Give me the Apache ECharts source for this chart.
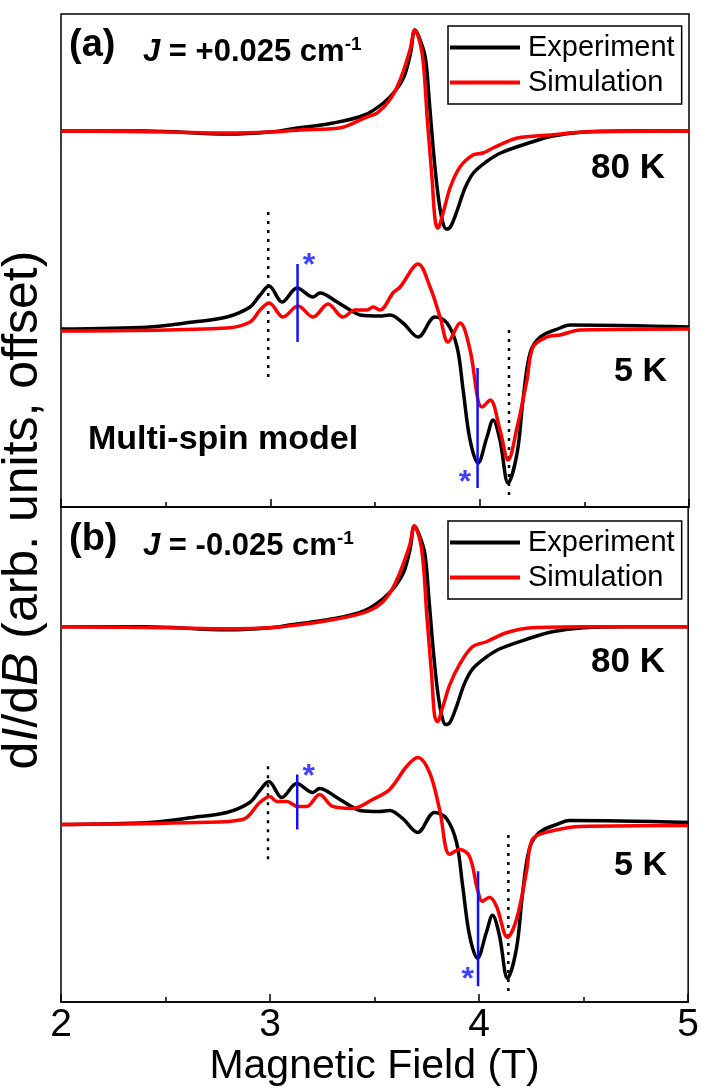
<!DOCTYPE html>
<html>
<head>
<meta charset="utf-8">
<script src="https://cdn.jsdelivr.net/npm/echarts@6/dist/echarts.min.js"></script>
<style>
  html, body { margin: 0; padding: 0; background: #fff; }
  #chart { width: 702px; height: 1088px; }
</style>
</head>
<body>
<div id="chart"></div>
<script>
// field (T) and dI/dB (arb. units, offset)
var exp80B = [2.0, 2.4, 2.8, 3.0, 3.1, 3.3, 3.45, 3.54, 3.6, 3.64, 3.67, 3.69, 3.71, 3.74, 3.76, 3.78, 3.80, 3.82, 3.84, 3.86, 3.89, 3.93, 3.97, 4.03, 4.1, 4.25, 4.35, 4.5, 4.7, 5.0];
var exp80Y = [7.52, 7.52, 7.46, 7.5, 7.56, 7.68, 7.84, 8.08, 8.34, 8.62, 9.08, 9.54, 9.4, 9.0, 8.08, 7.08, 6.28, 5.76, 5.56, 5.6, 5.9, 6.38, 6.68, 6.9, 7.08, 7.3, 7.42, 7.5, 7.52, 7.52];

var sim80aB = [2.0, 2.5, 2.8, 3.0, 3.14, 3.33, 3.46, 3.51, 3.57, 3.62, 3.667, 3.69, 3.725, 3.75, 3.773, 3.787, 3.80, 3.825, 3.86, 3.906, 3.968, 4.016, 4.064, 4.18, 4.34, 4.5, 5.0];
var sim80aY = [7.52, 7.5, 7.48, 7.5, 7.54, 7.58, 7.8, 7.88, 8.14, 8.54, 9.14, 9.54, 9.08, 7.74, 6.54, 5.74, 5.58, 5.88, 6.4, 6.8, 7.04, 7.08, 7.18, 7.38, 7.44, 7.5, 7.52];

var sim80bB = [2.0, 2.5, 2.8, 3.0, 3.14, 3.3, 3.46, 3.54, 3.6, 3.667, 3.69, 3.725, 3.75, 3.773, 3.787, 3.80, 3.825, 3.86, 3.906, 3.968, 4.035, 4.131, 4.255, 4.5, 5.0];
var sim80bY = [7.52, 7.5, 7.48, 7.5, 7.56, 7.66, 7.82, 8.02, 8.4, 9.14, 9.54, 9.08, 7.74, 6.54, 5.74, 5.62, 5.9, 6.36, 6.76, 7.12, 7.22, 7.4, 7.5, 7.52, 7.52];

var exp5B = [2.0, 2.425, 2.631, 2.793, 2.903, 2.951, 2.994, 3.056, 3.128, 3.204, 3.237, 3.319, 3.381, 3.429, 3.524, 3.572, 3.634, 3.706, 3.787, 3.844, 3.892, 3.921, 3.954, 3.992, 4.035, 4.064, 4.097, 4.136, 4.179, 4.207, 4.241, 4.289, 4.384, 4.432, 5.0];
var exp5Y = [3.56, 3.6, 3.7, 3.8, 4.0, 4.24, 4.42, 4.1, 4.38, 4.2, 4.28, 4.1, 3.94, 3.84, 3.82, 3.84, 3.68, 3.4, 3.8, 3.68, 3.2, 2.34, 1.34, 0.88, 1.4, 1.74, 1.34, 0.48, 1.08, 2.14, 3.08, 3.4, 3.58, 3.64, 3.6];

var sim5aB = [2.0, 2.793, 2.903, 2.951, 2.994, 3.061, 3.132, 3.204, 3.276, 3.347, 3.405, 3.462, 3.491, 3.524, 3.586, 3.62, 3.706, 3.763, 3.811, 3.849, 3.906, 3.954, 3.992, 4.011, 4.05, 4.097, 4.136, 4.179, 4.226, 4.255, 4.322, 4.384, 4.48, 5.0];
var sim5aY = [3.52, 3.58, 3.7, 3.94, 4.08, 3.8, 4.02, 3.8, 4.06, 3.8, 3.94, 3.94, 4.0, 3.94, 4.28, 4.4, 4.86, 4.4, 3.8, 3.3, 3.68, 3.14, 2.14, 2.0, 2.14, 1.54, 0.94, 1.6, 2.54, 3.2, 3.4, 3.44, 3.54, 3.56];

var sim5bB = [2.0, 2.664, 2.87, 2.951, 2.999, 3.032, 3.08, 3.132, 3.175, 3.237, 3.3, 3.395, 3.491, 3.572, 3.653, 3.706, 3.763, 3.811, 3.859, 3.906, 3.954, 3.992, 4.016, 4.05, 4.083, 4.136, 4.179, 4.226, 4.255, 4.32, 4.48, 5.0];
var sim5bY = [3.56, 3.6, 3.66, 4.0, 4.12, 4.02, 4.02, 3.92, 3.92, 4.16, 3.92, 3.88, 4.06, 4.26, 4.72, 4.9, 4.6, 3.86, 2.96, 3.06, 2.92, 2.26, 2.02, 2.1, 1.92, 1.3, 1.66, 2.6, 3.26, 3.4, 3.52, 3.54];

// vertical markers: [field, yFrom, yTo]
var dotsA = [[2.99, 2.6, 5.9], [4.14, 0.24, 3.54]];
var dotsB = [[2.99, 2.86, 4.78], [4.14, 0.22, 3.46]];
var blueA = [[3.13, 3.3, 4.86], [3.99, 0.38, 2.78]];
var blueB = [[3.13, 3.46, 4.56], [3.995, 0.32, 2.62]];
var starsA = [[3.185, 4.98], [3.93, 0.64]];
var starsB = [[3.185, 4.66], [3.945, 0.6]];

var FONT = 'Liberation Sans, Arial, sans-serif';

function pairs(xs, ys) {
  return xs.map(function (x, i) { return [x, ys[i]]; });
}

function curve(name, xs, ys, color, idx) {
  return {
    name: name, type: 'line', xAxisIndex: idx, yAxisIndex: idx,
    data: pairs(xs, ys), symbol: 'none', smooth: 0.35,
    lineStyle: { color: color, width: 3.5 }, itemStyle: { color: color },
    silent: true
  };
}

function segs(list, color, width, dash, idx, nm) {
  return list.map(function (s, k) {
    return {
      name: nm + k, type: 'line', xAxisIndex: idx, yAxisIndex: idx,
      data: [[s[0], s[1]], [s[0], s[2]]], symbol: 'none',
      lineStyle: { color: color, width: width, type: dash }, silent: true
    };
  });
}

function stars(list, idx) {
  return {
    name: 'stars' + idx, type: 'scatter', xAxisIndex: idx, yAxisIndex: idx,
    data: list, symbolSize: 0, silent: true,
    label: { show: true, formatter: '*', position: 'inside', offset: [0, 8],
      color: '#1010ff', fontSize: 32, fontWeight: 'bold', fontFamily: FONT }
  };
}

function xax(idx, labels) {
  return {
    gridIndex: idx, type: 'value', min: 2, max: 5, interval: 1,
    axisLine: { show: true, onZero: false, lineStyle: { color: '#000', width: 1.5 } },
    axisTick: { show: true, inside: true, length: 8, lineStyle: { color: '#000', width: 1.5 } },
    minorTick: { show: true, splitNumber: 2, length: 5, lineStyle: { color: '#000', width: 1.5 } },
    splitLine: { show: false },
    axisLabel: { show: labels, color: '#000', fontSize: 39, fontFamily: FONT, margin: 4 },
    name: labels ? 'Magnetic Field (T)' : '', nameLocation: 'middle', nameGap: 41,
    nameTextStyle: { color: '#000', fontSize: 41, fontFamily: FONT }
  };
}

var chart = echarts.init(document.getElementById('chart'));

var series = [].concat(
  segs(dotsA, '#000', 2.5, [3, 6], 0, 'dA'),
  segs(dotsB, '#000', 2.5, [3, 6], 1, 'dB'),
  [
    curve('Experiment', exp80B, exp80Y, '#000', 0),
    curve('Experiment', exp5B, exp5Y, '#000', 0),
    curve('Simulation', sim80aB, sim80aY, '#ff0000', 0),
    curve('Simulation', sim5aB, sim5aY, '#ff0000', 0),
    curve('Experiment', exp80B, exp80Y, '#000', 1),
    curve('Experiment', exp5B, exp5Y, '#000', 1),
    curve('Simulation', sim80bB, sim80bY, '#ff0000', 1),
    curve('Simulation', sim5bB, sim5bY, '#ff0000', 1)
  ],
  segs(blueA, '#1010ff', 2.5, 'solid', 0, 'bA'),
  segs(blueB, '#1010ff', 2.5, 'solid', 1, 'bB'),
  [stars(starsA, 0), stars(starsB, 1)]
);

function legendAt(top) {
  return {
    data: ['Experiment', 'Simulation'], orient: 'vertical', left: 448, top: top,
    icon: 'rect', itemWidth: 70, itemHeight: 4, itemGap: 6, selectedMode: false,
    borderColor: '#000', borderWidth: 1.5, padding: [7, 7, 7, 2],
    textStyle: { color: '#000', fontSize: 29, fontFamily: FONT, lineHeight: 29, padding: [0, 0, 0, 3] }
  };
}

function label(x, y, text, size, align, extra) {
  var st = { text: text, fontSize: size, fontWeight: 'bold', fontFamily: FONT, fill: '#000',
    align: align || 'left', verticalAlign: 'middle' };
  if (extra) st.rich = extra;
  return { type: 'text', x: x, y: y, silent: true, style: st };
}

var jRich = {
  i: { fontStyle: 'italic', fontWeight: 'bold', fontSize: 31, fontFamily: FONT },
  s: { fontWeight: 'bold', fontSize: 19, fontFamily: FONT, verticalAlign: 'top', padding: [0, 0, 14, 0] }
};

chart.setOption({
  animation: false,
  grid: [
    { left: 61, top: 14, width: 628, height: 493, show: true, borderColor: '#000', borderWidth: 1.5 },
    { left: 61, top: 507, width: 628, height: 496, show: true, borderColor: '#000', borderWidth: 1.5 }
  ],
  xAxis: [xax(0, false), xax(1, true)],
  yAxis: [
    { gridIndex: 0, type: 'value', min: 0, max: 9.86, show: false },
    { gridIndex: 1, type: 'value', min: 0, max: 9.92, show: false }
  ],
  legend: [legendAt(26), legendAt(521)],
  series: series,
  graphic: [
    label(69, 46, '(a)', 38),
    label(143, 52, '{i|J} = +0.025 cm{s|-1}', 31, 'left', jRich),
    label(665, 168, '80 K', 35, 'right'),
    label(667, 372, '5 K', 34, 'right'),
    label(88, 440, 'Multi-spin model', 34),
    label(69, 540, '(b)', 38),
    label(143, 546, '{i|J} = -0.025 cm{s|-1}', 31, 'left', jRich),
    label(665, 662, '80 K', 35, 'right'),
    label(667, 866, '5 K', 34, 'right'),
    {
      type: 'text', x: 23, y: 510, rotation: Math.PI / 2, silent: true,
      style: { text: 'd{i|I}/d{i|B} (arb. units, offset)', fontSize: 50, fontFamily: FONT, fill: '#000',
        align: 'center', verticalAlign: 'middle',
        rich: { i: { fontStyle: 'italic', fontSize: 50, fontFamily: FONT } } }
    }
  ]
});
</script>
</body>
</html>
